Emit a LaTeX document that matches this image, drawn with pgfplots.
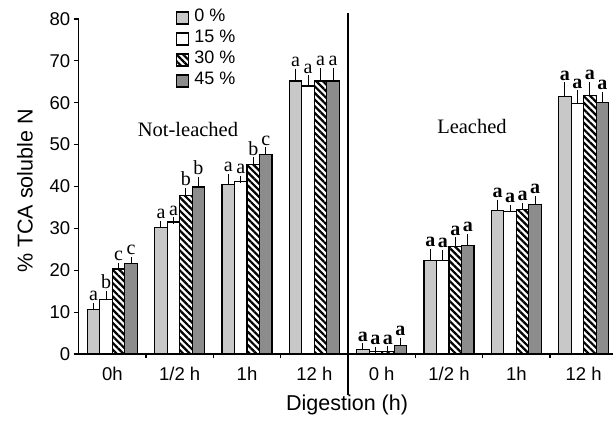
\documentclass[border=0pt]{standalone}
\usepackage{fontspec}
\setmainfont{Liberation Serif}
\setsansfont{Liberation Sans}
\usepackage{pgfplots}
\pgfplotsset{compat=1.18}
\usepackage{pgfplotstable}
\usetikzlibrary{patterns.meta}

\definecolor{lg}{RGB}{200,200,200}
\definecolor{dg}{RGB}{140,140,140}

\pgfplotstableread{
g y e lbl
0 10.7 0.6 a
1 30.3 0.6 a
2 40.5 1.6 a
3 65.2 2.1 a
4 1.0 0.7 a
5 22.4 1.9 a
6 34.2 1.8 a
7 61.4 2.6 a
}\tzero
\pgfplotstableread{
g y e lbl
0 13.0 1.2 b
1 31.5 0.3 a
2 41.1 0.6 a
3 64.0 1.7 a
4 0.6 0.3 a
5 22.4 1.6 a
6 34.0 0.7 a
7 59.8 2.3 a
}\tfifteen
\pgfplotstableread{
g y e lbl
0 20.3 0.7 c
1 37.9 1.0 b
2 45.3 0.8 b
3 65.2 2.2 a
4 0.6 0.4 a
5 25.6 1.4 a
6 34.6 0.7 a
7 61.8 2.4 a
}\tthirty
\pgfplotstableread{
g y e lbl
0 21.6 0.8 c
1 39.9 1.6 b
2 47.7 0.8 c
3 65.2 2.2 a
4 2.0 1.0 a
5 26.0 1.9 a
6 35.7 1.2 a
7 60.1 1.7 a
}\tfortyfive

\pgfplotsset{
  mybar/.style={ybar, bar width=12.5pt, draw=black, line width=1.2pt,
    point meta=explicit symbolic,
    visualization depends on={\thisrow{e}\as\myerr},
    visualization depends on={\thisrow{g}\as\mygrp},
    nodes near coords={\rmfamily\fontsize{20}{20}\selectfont\ifdim\mygrp pt>3.5pt\bfseries\fi\pgfplotspointmeta},
    every node near coord/.append style={black, inner sep=0pt, anchor=south, yshift={\myerr*4.1875pt+5pt}},
    error bars/y dir=plus, error bars/y explicit,
    error bars/error bar style={line width=1.1pt, black, solid},
    error bars/error mark options={mark size=3.5pt, line width=1.1pt, black, solid}},
}

\begin{document}
\begin{tikzpicture}
\begin{axis}[
  name=ax,
  x=67.33pt, y=4.1875pt,
  xmin=-0.5, xmax=7.44, ymin=0, ymax=80,
  clip=false,
  axis lines=left,
  axis line style={-, line width=1.2pt},
  tick align=outside,
  ytick={0,10,...,80},
  xtick={0,...,7},
  xticklabels={0h,1/2 h,1h,12 h,0 h,1/2 h,1h,12 h},
  minor xtick={0.5,1.5,2.5,4.5,5.5,6.5},
  every major x tick/.append style={draw=none},
  minor tick length=4pt,
  major tick length=5pt,
  tick style={line width=1.2pt, black},
  tick label style={font=\sffamily\fontsize{18.5}{20}\selectfont},
  xticklabel style={yshift=-5pt},
  /pgf/number format/assume math mode=true,
  xlabel={Digestion (h)},
  ylabel={\% TCA soluble N},
  every axis x label/.style={at={(axis description cs:0.502,-0.152)}, anchor=center, font=\sffamily\fontsize{21.5}{24}\selectfont},
  every axis y label/.style={at={(axis description cs:-0.1005,0.4866)}, rotate=90, anchor=center, font=\sffamily\fontsize{21.5}{24}\selectfont},
  legend style={draw=none, fill=none, at={(axis description cs:0.182,1.035)}, anchor=north west,
    font=\sffamily\fontsize{18}{20}\selectfont, inner sep=0pt, row sep=0pt,
    nodes={inner sep=1.5pt, text height=13pt, text depth=5pt},
    /tikz/every odd column/.append style={column sep=3.5pt}},
  legend cell align=left,
  legend image code/.code={\draw[#1, line width=1.2pt] (0pt,-6pt) rectangle (12pt,6pt);},
]
\addplot[mybar, fill=lg] table[x expr=\thisrow{g}-0.2785, y=y, y error=e, meta=lbl]{\tzero};
\addplot[mybar, fill=white] table[x expr=\thisrow{g}-0.0928, y=y, y error=e, meta=lbl]{\tfifteen};
\addplot[mybar, fill=white, pattern={Lines[angle=-45, distance=4.7pt, line width=2.2pt]}, pattern color=black] table[x expr=\thisrow{g}+0.0928, y=y, y error=e, meta=lbl]{\tthirty};
\addplot[mybar, fill=dg] table[x expr=\thisrow{g}+0.2785, y=y, y error=e, meta=lbl]{\tfortyfive};
\legend{0 \%, 15 \%, 30 \%, 45 \%}
\draw[line width=1.2pt] (axis cs:3.5,-9.8) -- (axis cs:3.5,81.4);
\node[font=\rmfamily\fontsize{20.5}{22}\selectfont] at (axis cs:1.123,53.5) {Not-leached};
\node[font=\rmfamily\fontsize{20.5}{22}\selectfont] at (axis cs:5.341,54.4) {Leached};
\end{axis}
\pgfresetboundingbox
\path[use as bounding box] ([shift={(-78.7pt,-69pt)}]ax.south west) rectangle ([shift={(535.3pt,354pt)}]ax.south west);
\end{tikzpicture}
\end{document}
